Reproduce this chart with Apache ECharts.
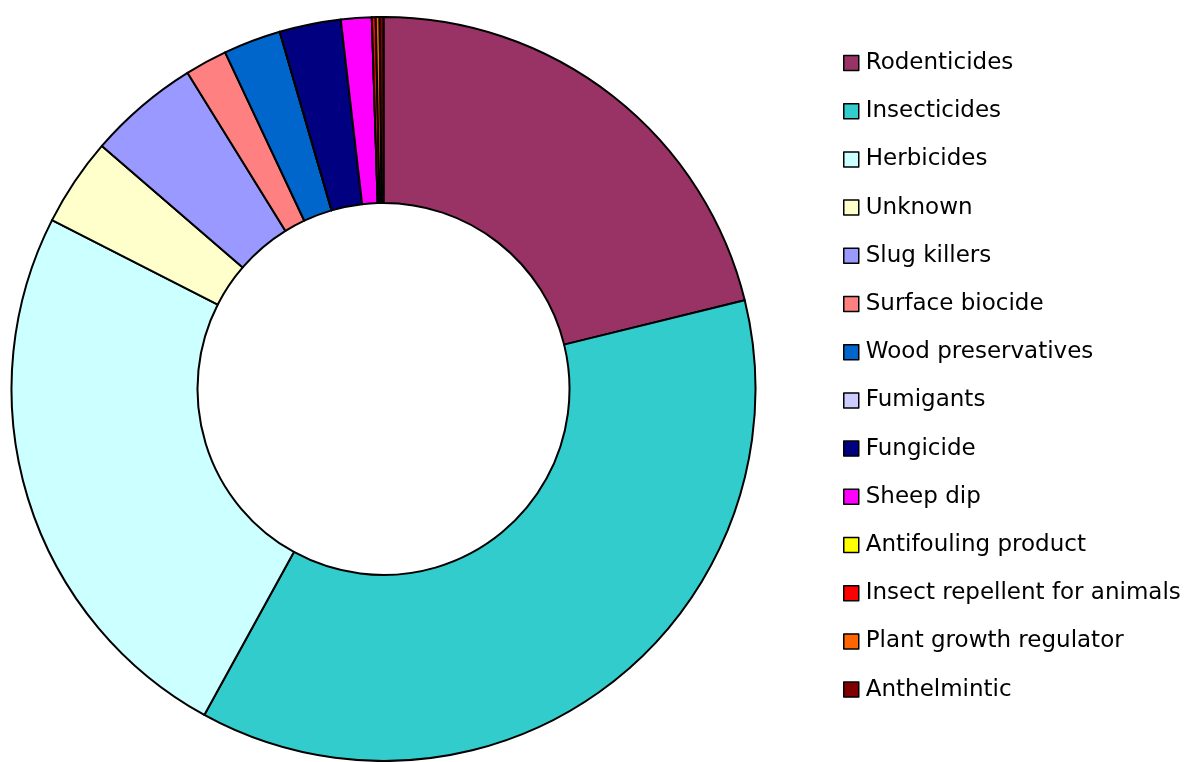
<!DOCTYPE html>
<html>
<head>
<meta charset="utf-8">
<script src="https://cdn.jsdelivr.net/npm/echarts@6/dist/echarts.min.js"></script>
<style>
  html, body { margin: 0; padding: 0; background: #fff; }
  #chart { width: 1194px; height: 762px; }
</style>
</head>
<body>
<div id="chart"></div>
<script>
var categories = ['Rodenticides', 'Insecticides', 'Herbicides', 'Unknown', 'Slug killers',
  'Surface biocide', 'Wood preservatives', 'Fumigants', 'Fungicide', 'Sheep dip',
  'Antifouling product', 'Insect repellent for animals', 'Plant growth regulator', 'Anthelmintic'];
var values = [127, 221, 147, 23, 29, 11, 15, 0, 16, 8, 0, 1, 1, 1];
var colors = ['#993366', '#33cccc', '#ccffff', '#ffffcc', '#9999ff', '#ff8080', '#0066cc',
  '#ccccff', '#000080', '#ff00ff', '#ffff00', '#ff0000', '#ff6600', '#800000'];

var myChart = echarts.init(document.getElementById('chart'));

var pieData = categories.map(function (name, i) {
  return { name: name, value: values[i], itemStyle: { color: colors[i] } };
});

var option = {
  animation: false,
  legend: {
    orient: 'vertical',
    left: 838,
    top: 46,
    icon: 'rect',
    itemWidth: 15,
    itemHeight: 15,
    itemGap: 24.2,
    selectedMode: false,
    itemStyle: { borderColor: '#000', borderWidth: 1.5 },
    textStyle: {
      fontFamily: 'DejaVu Sans',
      fontSize: 23,
      lineHeight: 24,
      color: '#000',
      padding: [0, 0, 0, 2]
    },
    data: categories
  },
  series: [
    {
      type: 'pie',
      center: [383.5, 389],
      radius: [186, 372],
      startAngle: 90,
      clockwise: true,
      label: { show: false },
      labelLine: { show: false },
      emphasis: { disabled: true },
      itemStyle: { borderColor: '#000', borderWidth: 2 },
      data: pieData
    }
  ]
};

myChart.setOption(option);
</script>
</body>
</html>
